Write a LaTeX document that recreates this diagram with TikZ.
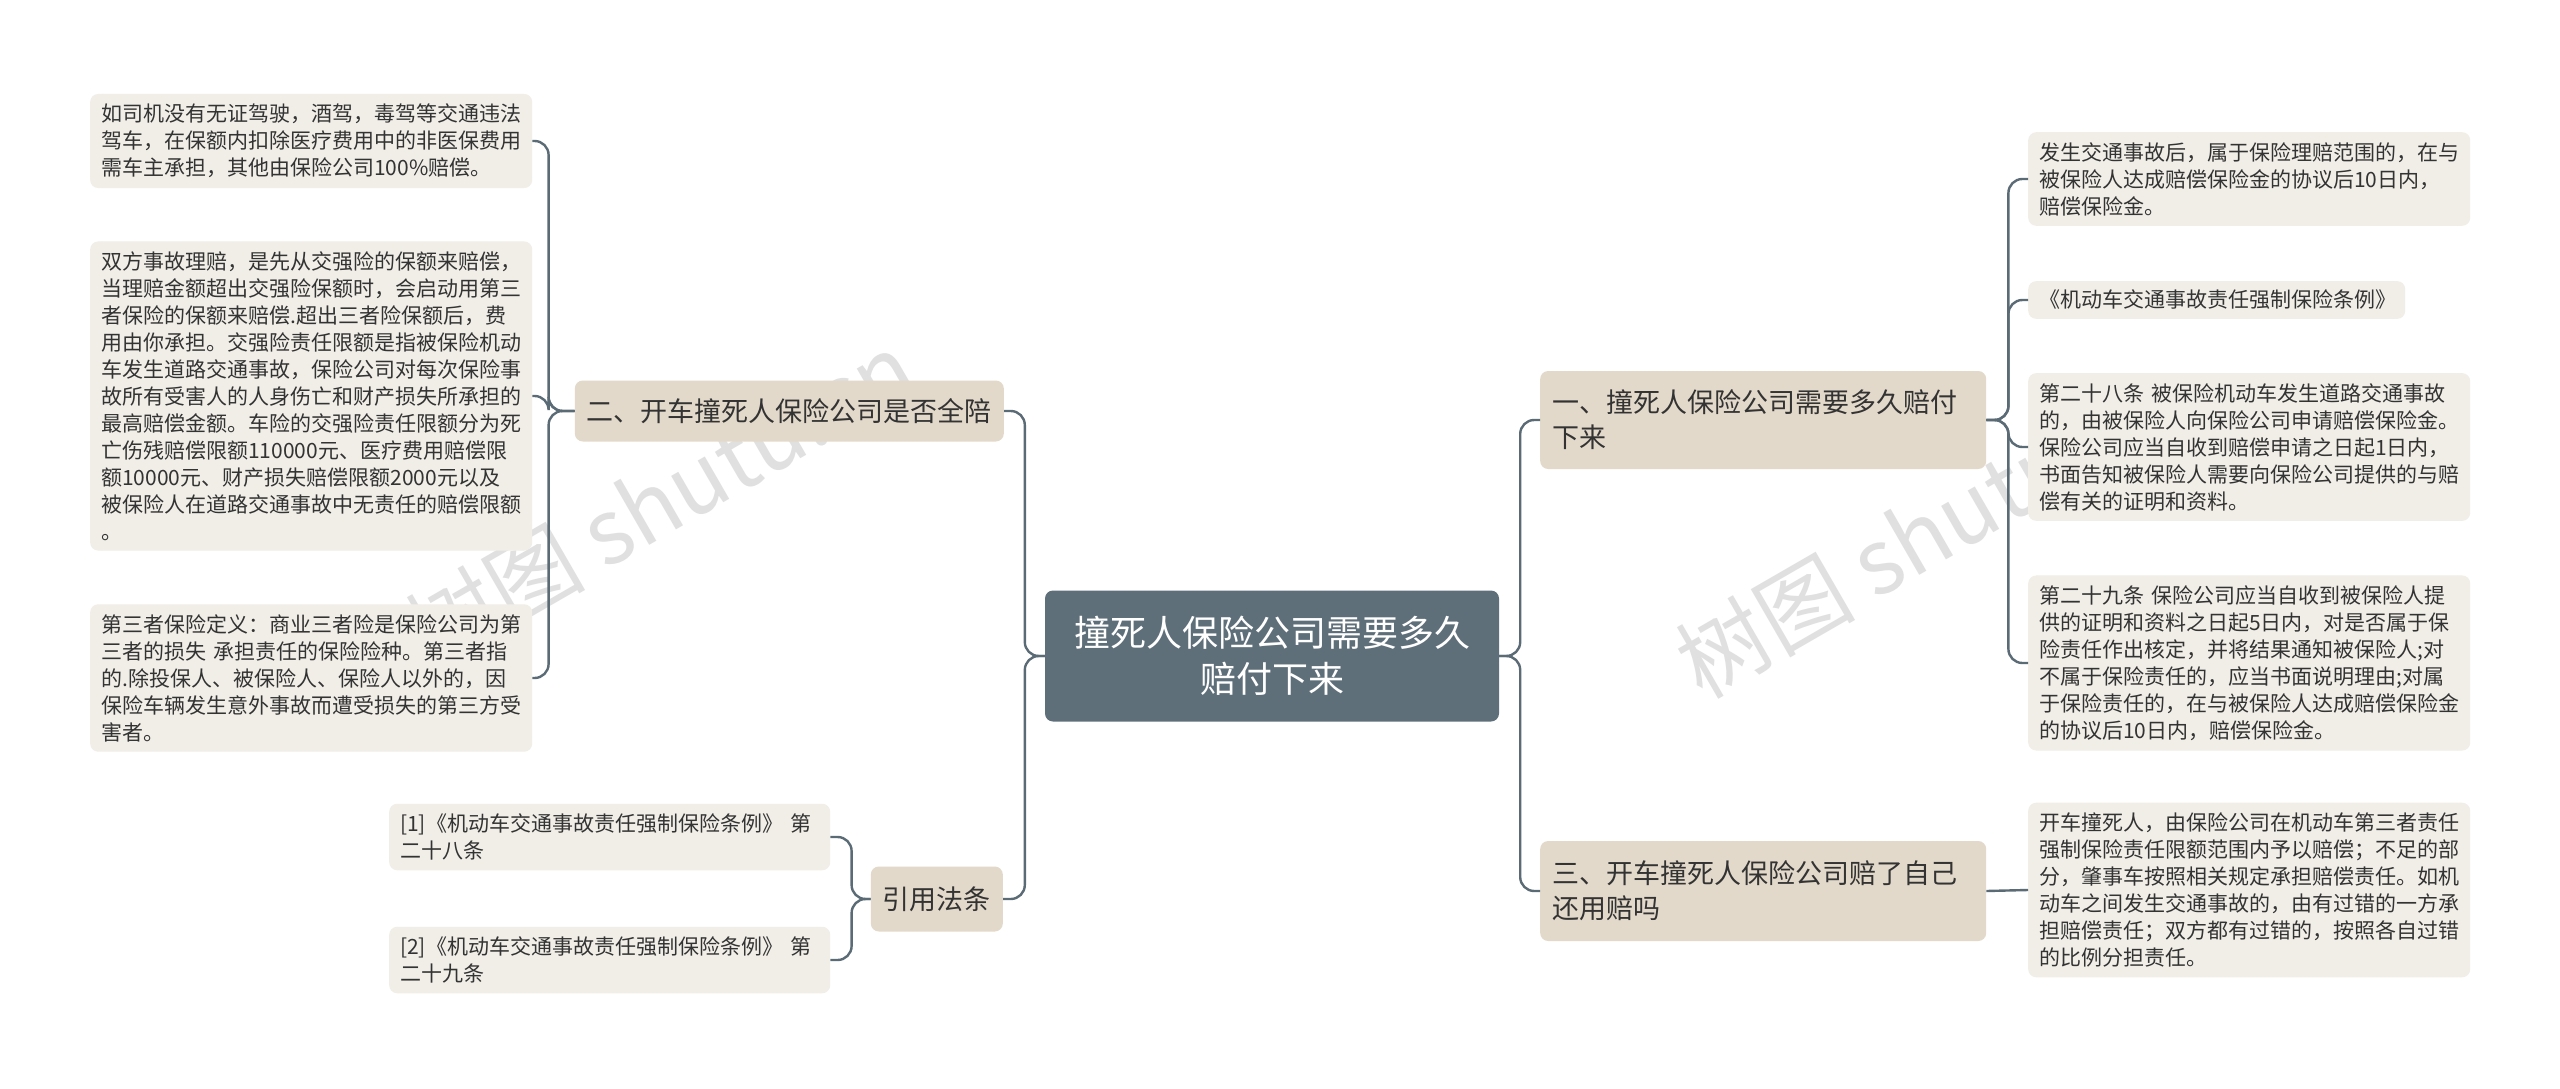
\documentclass[tikz,border=0pt]{standalone}
\usepackage{fontspec}
\setmainfont{Noto Sans CJK SC}
\begin{document}
\begin{tikzpicture}[x=1pt,y=-1pt,
  leaf/.style={fill=leafc,rounded corners=8pt,anchor=west,align=left,inner xsep=11pt,inner ysep=10pt,text=txt,font=\fontsize{21}{27}\selectfont,text width=420pt},
  branch/.style={fill=brc,rounded corners=8pt,align=left,inner xsep=12pt,inner ysep=10pt,text=txt,font=\fontsize{27}{35}\selectfont},
  conn/.style={draw=linec,line width=2.4pt,rounded corners=14pt}]
\definecolor{leafc}{HTML}{F1EEE8}
\definecolor{brc}{HTML}{E2D9CA}
\definecolor{cenc}{HTML}{5E6F7A}
\definecolor{linec}{HTML}{5B6B75}
\definecolor{txt}{HTML}{333333}
\useasboundingbox (0,0) rectangle (2560,1089);
\fill[white] (0,0) rectangle (2560,1089);
% watermarks
\node[rotate=30,text=black!12,font=\fontsize{90}{90}\selectfont] at (660,500) {树图 shutu.cn};
\node[rotate=30,text=black!12,font=\fontsize{90}{90}\selectfont] at (1930,530) {树图 shutu.cn};
% center
\node[fill=cenc,rounded corners=8pt,text=white,align=center,font=\fontsize{36}{46}\selectfont,minimum width=454pt,minimum height=131pt] (c) at (1272,656) {撞死人保险公司需要多久\\赔付下来};
% branches
\node[branch,anchor=east,minimum height=61pt] (b2) at (1004,411) {二、开车撞死人保险公司是否全陪};
\node[branch,anchor=east,minimum height=65pt] (b4) at (1003,899) {引用法条};
\node[branch,anchor=west,text width=422pt,minimum height=98pt] (b1) at (1540,420) {一、撞死人保险公司需要多久赔付\\下来};
\node[branch,anchor=west,text width=422pt,minimum height=100pt] (b3) at (1540,891) {三、开车撞死人保险公司赔了自己\\还用赔吗};
% left leaves
\node[leaf] (l1) at (90,141) {如司机没有无证驾驶，酒驾，毒驾等交通违法\\驾车，在保额内扣除医疗费用中的非医保费用\\需车主承担，其他由保险公司100\%赔偿。};
\node[leaf] (l2) at (90,396) {双方事故理赔，是先从交强险的保额来赔偿，\\当理赔金额超出交强险保额时，会启动用第三\\者保险的保额来赔偿.超出三者险保额后，费\\用由你承担。交强险责任限额是指被保险机动\\车发生道路交通事故，保险公司对每次保险事\\故所有受害人的人身伤亡和财产损失所承担的\\最高赔偿金额。车险的交强险责任限额分为死\\亡伤残赔偿限额110000元、医疗费用赔偿限\\额10000元、财产损失赔偿限额2000元以及\\被保险人在道路交通事故中无责任的赔偿限额\\。};
\node[leaf] (l3) at (90,678) {第三者保险定义：商业三者险是保险公司为第\\三者的损失 承担责任的保险险种。第三者指\\的.除投保人、被保险人、保险人以外的，因\\保险车辆发生意外事故而遭受损失的第三方受\\害者。};
\node[leaf,text width=419pt] (f1) at (389,837) {[1]《机动车交通事故责任强制保险条例》 第\\二十八条};
\node[leaf,text width=419pt] (f2) at (389,960) {[2]《机动车交通事故责任强制保险条例》 第\\二十九条};
% right leaves
\node[leaf] (r1) at (2028,179) {发生交通事故后，属于保险理赔范围的，在与\\被保险人达成赔偿保险金的协议后10日内，\\赔偿保险金。};
\node[leaf,text width=355pt,inner ysep=9pt] (r2) at (2028,300) {《机动车交通事故责任强制保险条例》};
\node[leaf] (r3) at (2028,447) {第二十八条 被保险机动车发生道路交通事故\\的，由被保险人向保险公司申请赔偿保险金。\\保险公司应当自收到赔偿申请之日起1日内，\\书面告知被保险人需要向保险公司提供的与赔\\偿有关的证明和资料。};
\node[leaf] (r4) at (2028,663) {第二十九条 保险公司应当自收到被保险人提\\供的证明和资料之日起5日内，对是否属于保\\险责任作出核定，并将结果通知被保险人;对\\不属于保险责任的，应当书面说明理由;对属\\于保险责任的，在与被保险人达成赔偿保险金\\的协议后10日内，赔偿保险金。};
\node[leaf] (r5) at (2028,890) {开车撞死人，由保险公司在机动车第三者责任\\强制保险责任限额范围内予以赔偿；不足的部\\分，肇事车按照相关规定承担赔偿责任。如机\\动车之间发生交通事故的，由有过错的一方承\\担赔偿责任；双方都有过错的，按照各自过错\\的比例分担责任。};
% connectors
\foreach \t in {b2,b4} \draw[conn] (c.west) -- ++(-20,0) |- (\t.east);
\foreach \t in {b1,b3} \draw[conn] (c.east) -- ++(21,0) |- (\t.west);
\foreach \t in {l1,l2,l3} \draw[conn] (b2.west) -- ++(-26,0) |- (\t.east);
\foreach \t in {f1,f2} \draw[conn] (b4.west) -- ++(-19,0) |- (\t.east);
\foreach \t in {r1,r2,r3,r4} \draw[conn] (b1.east) -- ++(22,0) |- (\t.west);
\draw[conn] (b3.east) -- (r5.west);
\end{tikzpicture}
\end{document}
